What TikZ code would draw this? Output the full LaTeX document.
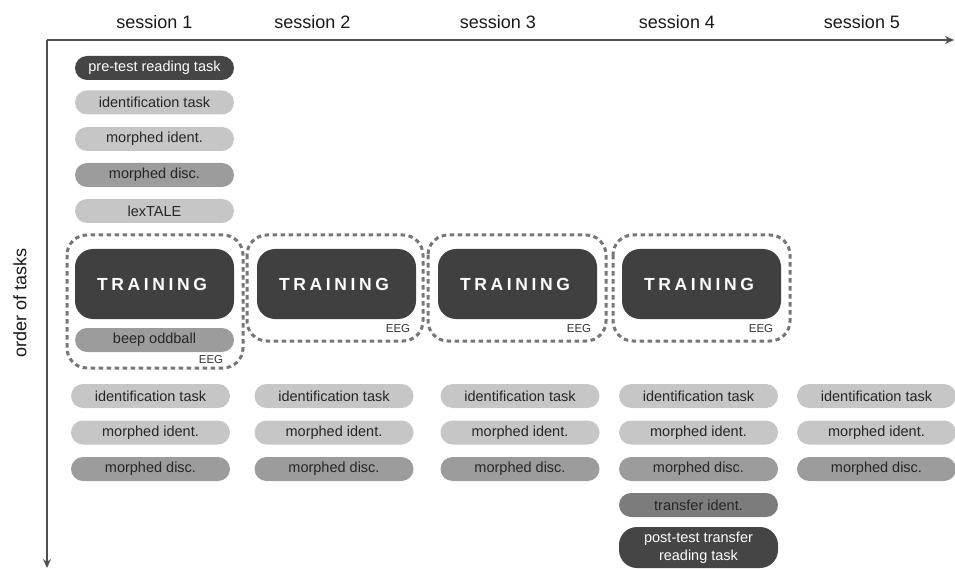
\documentclass[tikz,border=0pt]{standalone}
\usepackage{fontspec}
\setmainfont{Liberation Sans}
\usetikzlibrary{arrows.meta}
\definecolor{cdark}{HTML}{454545}
\definecolor{ctrain}{HTML}{404040}
\definecolor{clight}{HTML}{C6C6C6}
\definecolor{cmid}{HTML}{9C9C9C}
\definecolor{ctrans}{HTML}{7C7C7C}
\definecolor{caxis}{HTML}{505050}
\definecolor{cdash}{HTML}{767676}
\newcommand\trainword{T\kern3.6pt R\kern3.6pt A\kern3.6pt I\kern3.6pt N\kern3.6pt I\kern3.6pt N\kern3.6pt G\kern5pt}
\begin{document}
\begin{tikzpicture}[x=1pt,y=-1pt,
  pill/.style={rectangle,rounded corners=12pt,minimum width=159pt,minimum height=24pt,inner sep=0pt,
    font=\fontsize{14.5}{16}\selectfont,text=black!85},
  plight/.style={pill,fill=clight},
  pmid/.style={pill,fill=cmid},
  ptrans/.style={pill,fill=ctrans},
  pdark/.style={pill,fill=cdark,text=white},
  trainbox/.style={rectangle,rounded corners=18pt,fill=ctrain,minimum width=159pt,minimum height=70pt,inner sep=0pt,
    text=white,font=\fontsize{17.5}{18}\selectfont\bfseries},
  eegframe/.style={draw=cdash,line width=3pt,dash pattern=on 4.5pt off 3.5pt,rounded corners=20pt},
  eeglabel/.style={font=\fontsize{11.5}{12}\selectfont,text=black!80,inner sep=0pt},
  sesslabel/.style={font=\fontsize{18}{20}\selectfont,text=black!90,inner sep=0pt},
  axis/.style={draw=caxis,line width=1.3pt,-{Stealth[length=9pt,width=8pt]}}
]
\useasboundingbox (0,0) rectangle (955,569);

% axes
\coordinate (origin) at (47,40);
\coordinate (xend) at (954,40);
\coordinate (yend) at (47,568);
\draw[axis] (origin) -- (xend);
\draw[axis] (origin) -- (yend);
\node[sesslabel,rotate=90] (ylab) at (20,303) {order of tasks};

% session labels
\node[sesslabel] (s1) at (154.5,22) {session 1};
\node[sesslabel] (s2) at (312.5,22) {session 2};
\node[sesslabel] (s3) at (498,22) {session 3};
\node[sesslabel] (s4) at (677,22) {session 4};
\node[sesslabel] (s5) at (862,22) {session 5};

% session 1 pre-training
\node[pdark] (pre) at (154.5,68) {pre-test reading task};
\node[plight] (id1a) at (154.5,102.5) {identification task};
\node[plight] (mi1a) at (154.5,139) {morphed ident.};
\node[pmid] (md1a) at (154.5,175) {morphed disc.};
\node[plight] (lex) at (154.5,211) {lexTALE};

% EEG frames
\draw[eegframe] (67,235) rectangle (243,368);
\draw[eegframe] (247,235) rectangle (423,341);
\draw[eegframe] (428,235) rectangle (606,341);
\draw[eegframe] (613,235) rectangle (790,341);

% training
\node[trainbox] (t1) at (154.5,284) {\trainword};
\node[trainbox] (t2) at (336.5,284) {\trainword};
\node[trainbox] (t3) at (517.5,284) {\trainword};
\node[trainbox] (t4) at (701.5,284) {\trainword};
\node[pmid] (beep) at (154.5,340) {beep oddball};

\node[eeglabel] (e1) at (211,360) {EEG};
\node[eeglabel] (e2) at (398,329) {EEG};
\node[eeglabel] (e3) at (579,329) {EEG};
\node[eeglabel] (e4) at (761,329) {EEG};

% post-training tests
\node[plight] (id1) at (150.5,396) {identification task};
\node[plight] (mi1) at (150.5,432.5) {morphed ident.};
\node[pmid] (md1) at (150.5,469) {morphed disc.};

\node[plight] (id2) at (334,396) {identification task};
\node[plight] (mi2) at (334,432.5) {morphed ident.};
\node[pmid] (md2) at (334,469) {morphed disc.};

\node[plight] (id3) at (520,396) {identification task};
\node[plight] (mi3) at (520,432.5) {morphed ident.};
\node[pmid] (md3) at (520,469) {morphed disc.};

\node[plight] (id4) at (698.5,396) {identification task};
\node[plight] (mi4) at (698.5,432.5) {morphed ident.};
\node[pmid] (md4) at (698.5,469) {morphed disc.};
\node[ptrans] (tr4) at (698.5,505) {transfer ident.};
\node[pdark,minimum height=41pt,rounded corners=18pt,align=center,
  font=\fontsize{14.5}{18}\selectfont] (post) at (698.5,547.5) {post-test transfer\\reading task};

\node[plight] (id5) at (876.5,396) {identification task};
\node[plight] (mi5) at (876.5,432.5) {morphed ident.};
\node[pmid] (md5) at (876.5,469) {morphed disc.};
\end{tikzpicture}
\end{document}
